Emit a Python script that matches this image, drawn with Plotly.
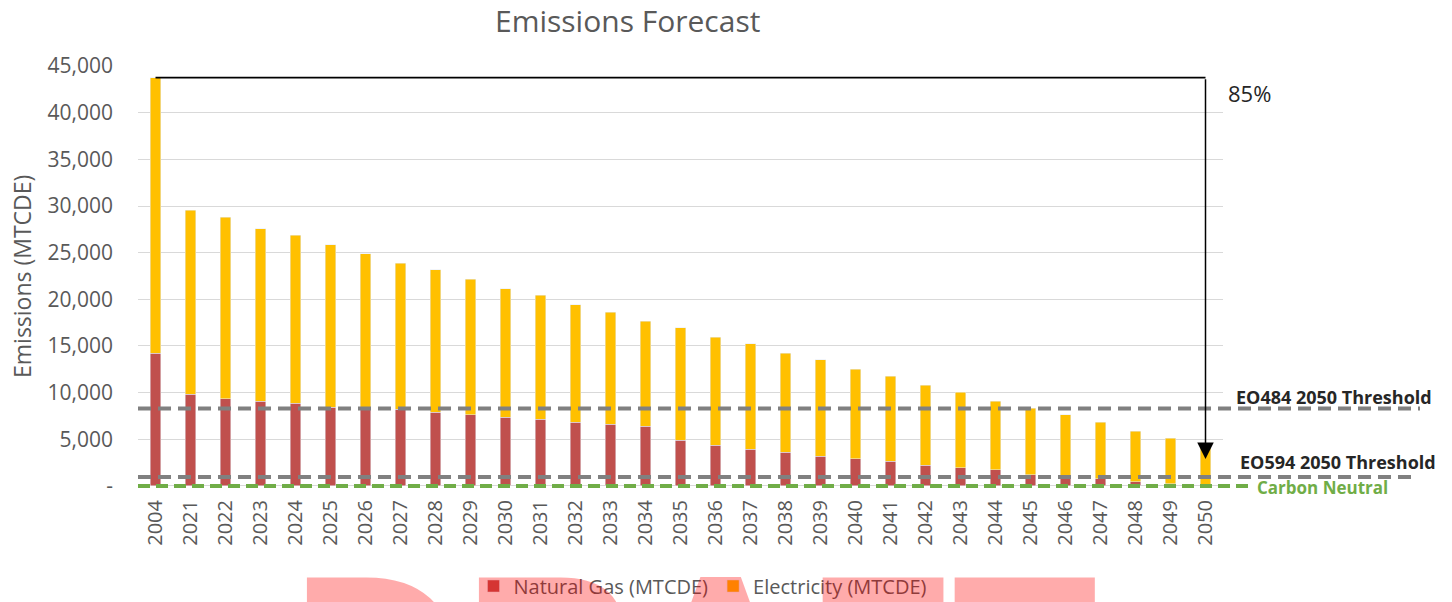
import plotly.graph_objects as go

years = ["2004", "2021", "2022", "2023", "2024", "2025", "2026", "2027", "2028", "2029",
         "2030", "2031", "2032", "2033", "2034", "2035", "2036", "2037", "2038", "2039",
         "2040", "2041", "2042", "2043", "2044", "2045", "2046", "2047", "2048", "2049", "2050"]
natural_gas = [14230, 9810, 9340, 9090, 8880, 8450, 8270, 8230, 7910, 7660,
               7370, 7130, 6840, 6590, 6380, 4880, 4340, 3910, 3620, 3160,
               2910, 2660, 2200, 1950, 1740, 1200, 1020, 770, 480, 230, 150]
electricity = [29520, 19720, 19470, 18470, 17970, 17400, 16620, 15650, 15260, 14470,
               13760, 13290, 12580, 12040, 11280, 12070, 11610, 11330, 10610, 10370,
               9580, 9110, 8570, 8100, 7350, 7140, 6610, 6070, 5390, 4890, 4250]
y_tickvals = [0, 5000, 10000, 15000, 20000, 25000, 30000, 35000, 40000, 45000]
y_ticktext = ["-", "5,000", "10,000", "15,000", "20,000", "25,000", "30,000", "35,000", "40,000", "45,000"]
thresholds = {"EO484 2050 Threshold": 8300, "EO594 2050 Threshold": 950, "Carbon Neutral": 0}
arrow_end = 2900
reduction_label = "85%"

W, H = 1452, 602
ML, MR, MT, MB = 138, 229, 66, 112
PW = W - ML - MR
PH = H - MT - MB
Y_RANGE = [-430, 45000]

def px_x(p):
    return (p - ML) / PW

def px_y(p):
    return (H - MB - p) / PH

FONT = "Open Sans"
GRAY = "#595959"

fig = go.Figure()
fig.add_trace(go.Bar(x=years, y=natural_gas, name="Natural Gas (MTCDE)", marker_color="#C0504D"))
fig.add_trace(go.Bar(x=years, y=electricity, name="Electricity (MTCDE)", marker_color="#FFC000"))

total_first = natural_gas[0] + electricity[0]
first_idx, last_idx = 0, len(years) - 1

shapes = []
shapes.append(dict(type="line", xref="x", yref="y", x0=first_idx, x1=last_idx,
                   y0=total_first, y1=total_first, line=dict(color="black", width=1.8), layer="above"))
shapes.append(dict(type="line", xref="paper", yref="y", x0=0, x1=px_x(1420),
                   y0=thresholds["EO484 2050 Threshold"], y1=thresholds["EO484 2050 Threshold"],
                   line=dict(color="#808080", width=4, dash="13px,7px"), layer="above"))
shapes.append(dict(type="line", xref="paper", yref="y", x0=0, x1=px_x(1414),
                   y0=thresholds["EO594 2050 Threshold"], y1=thresholds["EO594 2050 Threshold"],
                   line=dict(color="#808080", width=4, dash="13px,7px"), layer="above"))
shapes.append(dict(type="line", xref="paper", yref="y", x0=0, x1=px_x(1248),
                   y0=thresholds["Carbon Neutral"], y1=thresholds["Carbon Neutral"],
                   line=dict(color="#70AD47", width=4, dash="12px,6px"), layer="above"))

annotations = []
annotations.append(dict(x=last_idx, y=arrow_end, xref="x", yref="y", ax=last_idx, ay=total_first,
                        axref="x", ayref="y", showarrow=True, arrowhead=2, arrowsize=2.2,
                        arrowwidth=1.5, arrowcolor="black", text=""))
annotations.append(dict(x=px_x(1226), y=px_y(93), xref="paper", yref="paper", xanchor="left",
                        yanchor="middle", text=reduction_label, showarrow=False,
                        font=dict(family=FONT, size=22, color="#262626")))
annotations.append(dict(x=px_x(1234), y=thresholds["EO484 2050 Threshold"], yshift=12, xref="paper", yref="y",
                        xanchor="left", yanchor="middle", text="<b>EO484 2050 Threshold</b>", showarrow=False,
                        font=dict(family=FONT, size=18, color="#262626")))
annotations.append(dict(x=px_x(1238), y=thresholds["EO594 2050 Threshold"], yshift=15, xref="paper", yref="y",
                        xanchor="left", yanchor="middle", text="<b>EO594 2050 Threshold</b>", showarrow=False,
                        font=dict(family=FONT, size=18, color="#262626")))
annotations.append(dict(x=px_x(1255), y=thresholds["Carbon Neutral"], yshift=-2, xref="paper", yref="y",
                        xanchor="left", yanchor="middle", text="<b>Carbon Neutral</b>", showarrow=False,
                        font=dict(family=FONT, size=17, color="#70AD47")))
annotations.append(dict(x=px_x(22), y=px_y(277), xref="paper", yref="paper", xanchor="center",
                        yanchor="middle", text="Emissions (MTCDE)", textangle=-90, showarrow=False,
                        font=dict(family=FONT, size=23, color=GRAY)))
annotations.append(dict(x=px_x(627), y=px_y(20), xref="paper", yref="paper", xanchor="center",
                        yanchor="middle", text="Emissions Forecast",
                        showarrow=False, font=dict(family=FONT, size=30, color=GRAY)))
annotations.append(dict(x=px_x(694), y=px_y(524), xref="paper", yref="paper", xanchor="center",
                        yanchor="top", text="<b>DRAFT</b>", showarrow=False,
                        font=dict(family="Liberation Sans", size=238, color="rgba(255,0,0,0.33)")))

fig.update_layout(
    width=W, height=H,
    margin=dict(l=ML, r=MR, t=MT, b=MB, autoexpand=False),
    barmode="stack", bargap=0.69,
    plot_bgcolor="white", paper_bgcolor="white",
    shapes=shapes, annotations=annotations,
    showlegend=True,
    legend=dict(orientation="h", x=px_x(703), xanchor="center", y=px_y(586), yanchor="middle",
                font=dict(family=FONT, size=20, color=GRAY), traceorder="normal",
                itemwidth=30, bgcolor="rgba(0,0,0,0)"),
    xaxis=dict(type="category", tickangle=-90, tickfont=dict(family=FONT, size=20, color=GRAY),
               showgrid=False, showline=False, ticks="", ticklabelstandoff=5),
    yaxis=dict(range=Y_RANGE, tickvals=y_tickvals, ticktext=y_ticktext,
               tickfont=dict(family=FONT, size=21, color=GRAY), showgrid=True, gridcolor="#D9D9D9",
               gridwidth=1, zeroline=False, showline=False, ticks="", ticklabelstandoff=24),
)

fig.write_html("out.html", config={"displayModeBar": False},
               post_script="document.body.style.margin='0';document.body.style.overflow='hidden';")
